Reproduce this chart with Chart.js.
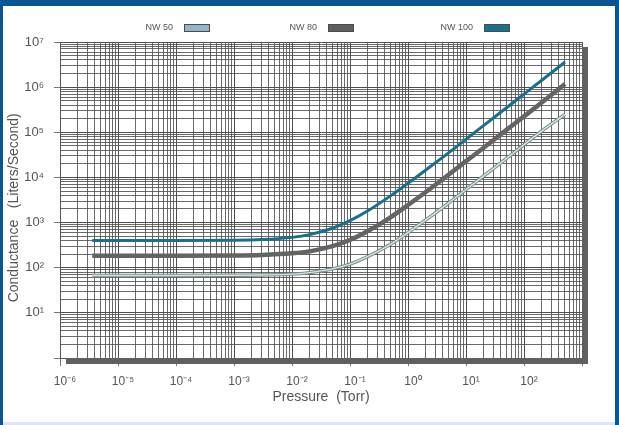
<!DOCTYPE html>
<html>
<head>
<meta charset="utf-8">
<script src="https://cdn.jsdelivr.net/npm/chart.js@4.4.1/dist/chart.umd.min.js"></script>
<style>
html, body { margin: 0; padding: 0; background: #fff; }
#wrap { position: relative; width: 619px; height: 425px; }
</style>
</head>
<body>
<div id="wrap"><canvas id="chart" width="619" height="425"></canvas></div>
<script>
// pressure in Torr, conductance in liters/second
const pressure = [3.6e-6, 1e-5, 1e-4, 1e-3, 3e-3, 1e-2, 2e-2, 5e-2, 0.1, 0.2, 0.5, 1, 2, 5, 10, 20, 50, 100, 200, 510];
const nw50  = [67, 67, 67, 68, 69, 72, 78, 94, 120, 175, 330, 600, 1130, 2700, 5400, 10700, 26500, 53000, 106000, 250000];
const nw80  = [185, 185, 185, 187, 192, 208, 230, 300, 410, 640, 1310, 2450, 4700, 11500, 23000, 45000, 113000, 225000, 450000, 1170000];
const nw100 = [400, 400, 400, 405, 420, 470, 540, 750, 1100, 1800, 3900, 7400, 14400, 35000, 70000, 140000, 350000, 700000, 1400000, 3600000];

const seriesNames = ['NW 50', 'NW 80', 'NW 100'];
const xDecades = [-6, 3];   // 10^-6 .. 10^3
const yDecades = [0, 7];    // 10^0 .. 10^7
const xLabelDecades = [-6, -5, -4, -3, -2, -1, 0, 1, 2];
const yLabelDecades = [1, 2, 3, 4, 5, 6, 7];

const SUP = { '-': '\u207B', '0': '\u2070', '1': '\u00B9', '2': '\u00B2', '3': '\u00B3', '4': '\u2074',
              '5': '\u2075', '6': '\u2076', '7': '\u2077', '8': '\u2078', '9': '\u2079' };

function pow10Label(e) {
    return '10' + String(e).split('').map(c => SUP[c]).join('');
}

function decadeOf(v) {
    const e = Math.log10(v);
    return Math.abs(e - Math.round(e)) < 1e-9 ? Math.round(e) : null;
}

function logTicks(range) {
    const t = [];
    for (let e = range[0]; e < range[1]; e++) {
        for (let m = 1; m < 10; m++) t.push({ value: m * Math.pow(10, e) });
    }
    t.push({ value: Math.pow(10, range[1]) });
    return t;
}

const pts = arr => arr.map((v, i) => ({ x: pressure[i], y: v }));

const gridColor = ctx => (ctx.tick && decadeOf(ctx.tick.value) !== null) ? '#4f4f4f' : 'rgba(80,80,80,0.85)';
const majorTickColor = ctx => (ctx.tick && decadeOf(ctx.tick.value) !== null) ? '#777777' : 'rgba(0,0,0,0)';

const frame = {
    id: 'frame',
    beforeDraw(chart) {
        const c = chart.ctx;
        c.save();
        c.fillStyle = '#ffffff';
        c.fillRect(0, 0, chart.width, chart.height);
        c.fillStyle = '#0b5594';
        c.fillRect(0, 0, chart.width, 6);
        c.fillRect(0, 0, 3, chart.height);
        c.fillRect(chart.width - 4, 0, 4, chart.height);
        c.fillStyle = '#dbe8f4';
        c.fillRect(3, chart.height - 3, chart.width - 7, 3);
        c.restore();
    },
    afterDraw(chart) {
        const a = chart.chartArea;
        const c = chart.ctx;
        c.save();
        // drop shadow of the plot box
        c.fillStyle = '#606060';
        c.fillRect(a.left + 6, a.bottom, a.right - a.left, 6);
        c.fillRect(a.right, a.top + 5, 6, a.bottom - a.top + 1);
        // legend: text then swatch
        const boxX = [184, 328, 484];
        const fills = ['#93b5cc', '#5f5f5f', '#17708c'];
        c.font = '9px "Liberation Sans", Arial, sans-serif';
        c.textAlign = 'right';
        c.textBaseline = 'middle';
        seriesNames.forEach((name, i) => {
            c.fillStyle = '#555555';
            c.fillText(name, boxX[i] - 11, 28);
            c.fillStyle = fills[i];
            c.fillRect(boxX[i], 24, 26, 8);
            c.strokeStyle = '#4a4a4a';
            c.lineWidth = 1;
            c.strokeRect(boxX[i] + 0.5, 24.5, 25, 7);
        });
        c.restore();
    }
};

Chart.defaults.font.family = '"Liberation Sans", Arial, sans-serif';
Chart.defaults.color = '#555555';

new Chart(document.getElementById('chart'), {
    type: 'line',
    data: {
        datasets: [
            { label: seriesNames[0] + ' inner', data: pts(nw50), borderColor: '#d2e6e6', borderWidth: 1.4 },
            { label: seriesNames[0], data: pts(nw50), borderColor: '#7a8b8b', borderWidth: 3.4 },
            { label: seriesNames[1], data: pts(nw80), borderColor: '#646464', borderWidth: 4.5 },
            { label: seriesNames[2], data: pts(nw100), borderColor: '#17708c', borderWidth: 3 }
        ]
    },
    options: {
        responsive: false,
        animation: false,
        layout: { padding: { left: 0, top: 42, right: 37, bottom: 12 } },
        elements: {
            point: { radius: 0 },
            line: { cubicInterpolationMode: 'monotone', borderCapStyle: 'butt' }
        },
        plugins: { legend: { display: false }, tooltip: { enabled: false } },
        scales: {
            x: {
                type: 'logarithmic',
                min: Math.pow(10, xDecades[0]),
                max: Math.pow(10, xDecades[1]),
                afterBuildTicks: s => { s.ticks = logTicks(xDecades); },
                afterFit: s => { s.height = 55; },
                grid: { color: gridColor, lineWidth: 1, tickLength: 8, tickColor: majorTickColor },
                border: { display: true, color: '#555555' },
                ticks: {
                    autoSkip: false, maxRotation: 0, minRotation: 0, padding: 8, labelOffset: 5,
                    font: { size: 12 },
                    callback: v => {
                        const e = decadeOf(v);
                        return (e !== null && xLabelDecades.includes(e)) ? pow10Label(e) : '';
                    }
                },
                title: { display: true, text: 'Pressure  (Torr)', font: { size: 14 }, padding: { top: 0, bottom: 7 } }
            },
            y: {
                type: 'logarithmic',
                min: Math.pow(10, yDecades[0]),
                max: Math.pow(10, yDecades[1]),
                afterBuildTicks: s => { s.ticks = logTicks(yDecades); },
                afterFit: s => { s.width = 60; },
                grid: { color: gridColor, lineWidth: 1, tickLength: 6, tickColor: majorTickColor },
                border: { display: true, color: '#555555' },
                ticks: {
                    autoSkip: false, padding: 10,
                    font: { size: 13 },
                    callback: v => {
                        const e = decadeOf(v);
                        return (e !== null && yLabelDecades.includes(e)) ? pow10Label(e) : '';
                    }
                },
                title: { display: true, text: 'Conductance   (Liters/Second)    ', font: { size: 14 }, padding: { top: 6, bottom: 0 } }
            }
        }
    },
    plugins: [frame]
});
</script>
</body>
</html>
